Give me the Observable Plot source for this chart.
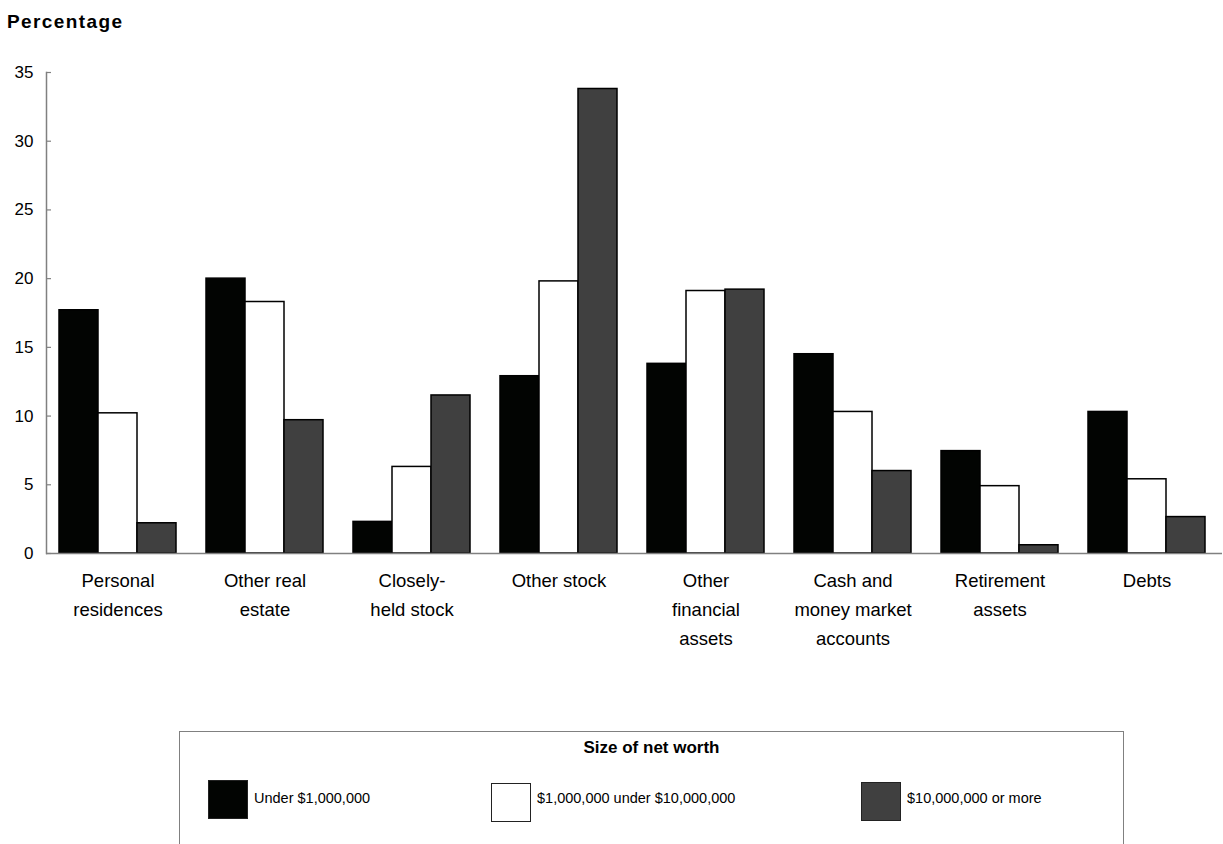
<!DOCTYPE html>
<html><head><meta charset="utf-8">
<script src="https://cdn.jsdelivr.net/npm/d3@7"></script>
<script src="https://cdn.jsdelivr.net/npm/@observablehq/plot@0.6"></script>
<style>
html,body{margin:0;padding:0;background:#fff;overflow:hidden;font-family:"Liberation Sans",Arial,sans-serif;color:#000}
#wrap{position:relative;width:1223px;height:844px;overflow:hidden}
#title{height:50px;box-sizing:border-box;padding:12px 0 0 7px;font-size:19px;font-weight:bold;line-height:19px;letter-spacing:1.4px}
#chart svg{display:block}
#legend{position:absolute;left:179px;top:731px;width:945px;height:140px;border:1.5px solid #808080;border-bottom:none;box-sizing:border-box}
#legend .lt{position:absolute;left:0;right:0;top:6px;text-align:center;font-weight:bold;font-size:17px;line-height:20px}
#legend .sw{position:absolute;width:40px;height:39px;border:1.3px solid #222;box-sizing:border-box}
#legend .lb{position:absolute;font-size:14.5px;line-height:18px}
</style></head>
<body>
<div id="wrap">
  <div id="title">Percentage</div>
  <div id="chart"></div>
  <div id="legend"></div>
</div>
<script>
const categories = ["Personal\nresidences","Other real\nestate","Closely-\nheld stock","Other stock","Other\nfinancial\nassets","Cash and\nmoney market\naccounts","Retirement\nassets","Debts"];
const seriesNames = ["Under $1,000,000","$1,000,000 under $10,000,000","$10,000,000 or more"];
const under1M     = [17.7, 20.0, 2.3, 12.9, 13.8, 14.5, 7.45, 10.3];
const from1Mto10M = [10.2, 18.3, 6.3, 19.8, 19.1, 10.3, 4.9, 5.4];
const over10M     = [2.2, 9.7, 11.5, 33.8, 19.2, 6.0, 0.6, 2.65];
const seriesColors = ["#020402", "#ffffff", "#404040"];
const yTicks = [0, 5, 10, 15, 20, 25, 30, 35];
const legendTitle = "Size of net worth";

const rows = [];
[under1M, from1Mto10M, over10M].forEach((vals, si) =>
  vals.forEach((v, ci) => rows.push({category: categories[ci], series: seriesNames[si], value: v})));

const chart = Plot.plot({
  width: 1223, height: 660,
  marginTop: 22, marginBottom: 157, marginLeft: 42, marginRight: 1,
  style: {fontFamily: '"Liberation Sans", Arial, sans-serif', background: "#fff", color: "#000"},
  fx: {domain: categories, paddingInner: 0.027, paddingOuter: 0, label: null},
  x: {domain: seriesNames, paddingInner: 0, paddingOuter: 0.3, axis: null},
  y: {domain: [0, 35], label: null},
  color: {domain: seriesNames, range: seriesColors},
  marks: [
    Plot.barY(rows, {fx: "category", x: "series", y: "value", fill: "series", stroke: "#000", strokeWidth: 1.5}),
    Plot.ruleY([0], {stroke: "#808080", strokeWidth: 1.5, insetRight: -4}),
    Plot.frame({anchor: "left", facetAnchor: "left", stroke: "#808080", strokeWidth: 1.5}),
    Plot.axisY(yTicks, {anchor: "left", tickSize: 5, dx: 5, tickFormat: () => "", stroke: "#808080", strokeWidth: 1.2}),
    Plot.axisY(yTicks, {anchor: "left", tickSize: 0, tickPadding: 13, fontSize: 17}),
    Plot.axisFx({anchor: "bottom", tickSize: 0, tickPadding: 13, fontSize: 18.5, lineHeight: 1.57, label: null})
  ]
});
document.getElementById("chart").appendChild(chart);

// legend
const leg = document.getElementById("legend");
const t = document.createElement("div");
t.className = "lt"; t.textContent = legendTitle; leg.appendChild(t);
const swLeft = [28, 311, 681];
const swTop = [48, 51, 50];
seriesNames.forEach((name, i) => {
  const s = document.createElement("div");
  s.className = "sw";
  s.style.left = swLeft[i] + "px";
  s.style.top = swTop[i] + "px";
  s.style.background = seriesColors[i];
  leg.appendChild(s);
  const l = document.createElement("div");
  l.className = "lb";
  l.style.left = (swLeft[i] + 46) + "px";
  l.style.top = "57px";
  l.textContent = name;
  leg.appendChild(l);
});
</script>
</body></html>
